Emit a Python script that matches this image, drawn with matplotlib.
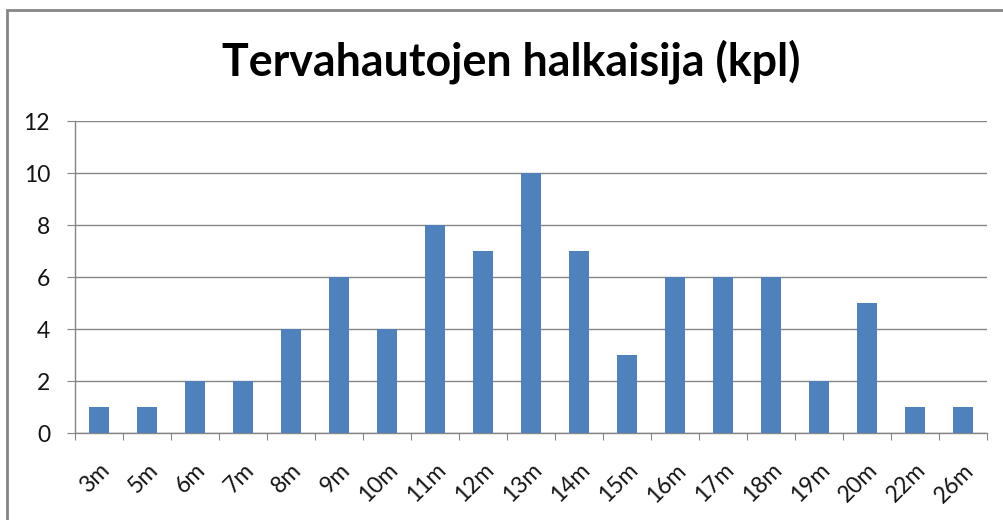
import matplotlib
matplotlib.use("Agg")
import matplotlib.pyplot as plt
from matplotlib.patches import Rectangle
from matplotlib import font_manager

categories = ["3m", "5m", "6m", "7m", "8m", "9m", "10m", "11m", "12m", "13m",
              "14m", "15m", "16m", "17m", "18m", "19m", "20m", "22m", "26m"]
values = [1, 1, 2, 2, 4, 6, 4, 8, 7, 10, 7, 3, 6, 6, 6, 2, 5, 1, 1]
y_ticks = [0, 2, 4, 6, 8, 10, 12]
title = "Tervahautojen halkaisija (kpl)"

installed = {f.name for f in font_manager.fontManager.ttflist}
title_fam = [f for f in ["Lato", "Open Sans", "DejaVu Sans"] if f in installed]
label_fam = [f for f in ["Lato", "Open Sans", "DejaVu Sans"] if f in installed]

W, H = 1004, 520
fig = plt.figure(figsize=(W / 100, H / 100), dpi=100)
fig.patch.set_facecolor("white")

# outer chart border (left and top visible)
fig.add_artist(Rectangle((6.5 / W, -0.05), 1.2, 1 - 9.5 / H + 0.05,
                         transform=fig.transFigure, fill=False,
                         edgecolor="#858585", linewidth=2))

ax = fig.add_axes([75 / W, (H - 433) / H, (987 - 75) / W, (433 - 121) / H])
x = list(range(len(categories)))
ax.bar(x, values, width=0.4, color="#4F81BD", zorder=3)

ax.set_xlim(-0.5, len(categories) - 0.5)
ax.set_ylim(0, 12)
ax.set_yticks(y_ticks)
ax.set_yticklabels([str(v) for v in y_ticks], fontsize=16.5, color="#141414",
                   family=label_fam)
ax.yaxis.grid(True, color="#868686", linewidth=1)
ax.set_axisbelow(True)

ax.set_xticks([i - 0.5 for i in range(len(categories) + 1)])
ax.set_xticklabels([])
ax.set_xticks(x, minor=True)
ax.set_xticklabels(categories, minor=True, rotation=45, ha="right",
                   rotation_mode="anchor", fontsize=16.5, color="#141414",
                   family=label_fam)
ax.tick_params(axis="x", which="major", length=5, color="#868686", direction="out")
ax.tick_params(axis="x", which="minor", length=0, pad=19)
ax.tick_params(axis="y", length=6, color="#868686", direction="out", pad=12)

for s in ["top", "right"]:
    ax.spines[s].set_visible(False)
for s in ["left", "bottom"]:
    ax.spines[s].set_color("#868686")
    ax.spines[s].set_linewidth(1)

t = fig.text(511 / W, (H - 76) / H, title, ha="center", va="baseline",
             fontsize=30, fontweight="bold", family=title_fam, color="black")
# fit the title to the reference width (~578 px)
renderer = fig.canvas.get_renderer()
w = t.get_window_extent(renderer).width
t.set_fontsize(30 * 578 / w)

fig.savefig("out.png", dpi=100)
